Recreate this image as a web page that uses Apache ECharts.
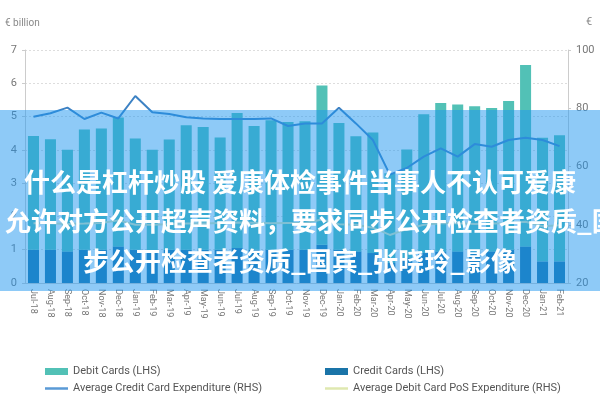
<!DOCTYPE html>
<html><head><meta charset="utf-8">
<script src="https://cdn.jsdelivr.net/npm/echarts@6/dist/echarts.min.js"></script>
<style>html,body{margin:0;padding:0;background:#fff}#c{width:600px;height:400px}</style>
</head><body><div id="c"></div>
<script>
const categories = ['Jul-18','Aug-18','Sep-18','Oct-18','Nov-18','Dec-18','Jan-19','Feb-19','Mar-19','Apr-19','May-19','Jun-19','Jul-19','Aug-19','Sep-19','Oct-19','Nov-19','Dec-19','Jan-20','Feb-20','Mar-20','Apr-20','May-20','Jun-20','Jul-20','Aug-20','Sep-20','Oct-20','Nov-20','Dec-20','Jan-21','Feb-21'];
const creditCards = [1.0,1.0,0.95,1.0,1.0,1.1,1.0,0.95,1.0,1.0,1.0,1.0,1.05,1.0,1.0,1.0,1.0,1.15,1.0,0.95,0.9,0.6,0.75,0.9,0.95,0.95,0.95,0.95,1.0,1.1,0.65,0.65];
const totalCards = [4.42,4.32,4.0,4.61,4.64,4.97,4.34,4.0,4.31,4.74,4.69,4.37,5.11,4.72,4.89,4.84,4.86,5.93,4.81,4.41,4.52,3.3,4.01,5.07,5.41,5.36,5.31,5.26,5.47,6.55,4.36,4.44];
const avgCreditExp = [77.1,78.3,80.2,76.3,78.5,76.5,84.2,78.6,78.0,76.9,76.5,76.3,76.3,76.3,76.5,73.9,74.8,74.8,80.2,74.8,69.1,57.2,59.5,63.4,66.2,63.4,67.7,66.8,69.1,69.9,69.1,67.0];
const avgDebitPosExp = [40.5,40.5,40.3,40.4,40.6,41.5,40.0,40.0,40.2,40.4,40.4,40.6,40.8,40.7,40.5,40.6,40.6,41.8,40.2,40.0,39.0,36.5,38.5,40.0,40.5,40.5,40.3,40.4,40.5,41.0,39.5,39.8];
const debitCards = totalCards.map((t,i)=>+(t-creditCards[i]).toFixed(2));
const leftTicks = [0,7,1];
const rightTicks = [20,100,20];

const legendText = {fontSize:11,color:'#555',fontFamily:'Roboto, "Liberation Sans", sans-serif'};
const chart = echarts.init(document.getElementById('c'));
chart.setOption({
  animation:false,
  textStyle:{fontFamily:'Roboto, "Liberation Sans", sans-serif'},
  grid:{left:25,right:32,top:50,bottom:117},
  legend:[
    {orient:'vertical',left:40,top:361,itemGap:6,itemWidth:23,itemHeight:7,textStyle:legendText,
     data:[{name:'Debit Cards (LHS)',icon:'rect'},
           {name:'Average Credit Card Expenditure (RHS)',icon:'path://M0,4L23,4L23,6.5L0,6.5Z',itemStyle:{color:'#5a9ad6'}}]},
    {orient:'vertical',left:320,top:361,itemGap:6,itemWidth:23,itemHeight:7,textStyle:legendText,
     data:[{name:'Credit Cards (LHS)',icon:'rect'},
           {name:'Average Debit Card PoS Expenditure (RHS)',icon:'path://M0,4L23,4L23,6.5L0,6.5Z',itemStyle:{color:'#dfe8b0'}}]}
  ],
  xAxis:{
    type:'category',data:categories,
    axisLine:{lineStyle:{color:'#ccc'}},axisTick:{show:false},
    axisLabel:{interval:0,rotate:-90,fontSize:9,color:'#777',margin:6}
  },
  yAxis:[
    {type:'value',min:leftTicks[0],max:leftTicks[1],interval:leftTicks[2],
     name:'€ billion',nameLocation:'end',nameGap:22,nameTextStyle:{align:'left',padding:[0,0,0,-20],color:'#888',fontSize:10},
     axisLine:{show:true,lineStyle:{color:'#ccc'}},axisTick:{show:true,length:3,lineStyle:{color:'#ccc'}},
     axisLabel:{color:'#777',fontSize:11,margin:8},
     splitLine:{lineStyle:{color:'#ddd',type:[2,2]}}},
    {type:'value',min:rightTicks[0],max:rightTicks[1],interval:rightTicks[2],
     name:'€',nameLocation:'end',nameGap:22,nameTextStyle:{align:'left',padding:[0,0,0,18],color:'#888',fontSize:11},
     axisLine:{show:true,lineStyle:{color:'#ccc'}},axisTick:{show:true,length:3,lineStyle:{color:'#ccc'}},
     axisLabel:{color:'#777',fontSize:11,margin:8},
     splitLine:{show:false}}
  ],
  series:[
    {name:'Credit Cards (LHS)',type:'bar',stack:'c',data:creditCards,barCategoryGap:'35%',itemStyle:{color:'#1a74a8'}},
    {name:'Debit Cards (LHS)',type:'bar',stack:'c',data:debitCards,itemStyle:{color:'#52c1b6'}},
    {name:'Average Credit Card Expenditure (RHS)',type:'line',yAxisIndex:1,data:avgCreditExp,symbol:'none',lineStyle:{color:'#3d82c4',width:2}},
    {name:'Average Debit Card PoS Expenditure (RHS)',type:'line',yAxisIndex:1,data:avgDebitPosExp,symbol:'none',lineStyle:{color:'#e3ebb8',width:2}}
  ],
  graphic:[
    {type:'rect',z:100,shape:{x:0,y:110,width:600,height:181},style:{fill:'rgba(30,150,240,0.5)'}},
    {type:'text',z:101,x:300,y:182,style:{text:'什么是杠杆炒股 爱康体检事件当事人不认可爱康',fill:'#fff',font:'bold 26px "Noto Sans CJK SC"',textAlign:'center',textVerticalAlign:'middle'}},
    {type:'text',z:101,x:5,y:221,style:{text:'允许对方公开超声资料，要求同步公开检查者资质_国宾',fill:'#fff',font:'bold 26px "Noto Sans CJK SC"',textAlign:'left',textVerticalAlign:'middle'}},
    {type:'text',z:101,x:300,y:261,style:{text:'步公开检查者资质_国宾_张晓玲_影像',fill:'#fff',font:'bold 26px "Noto Sans CJK SC"',textAlign:'center',textVerticalAlign:'middle'}}
  ]
});
</script></body></html>
